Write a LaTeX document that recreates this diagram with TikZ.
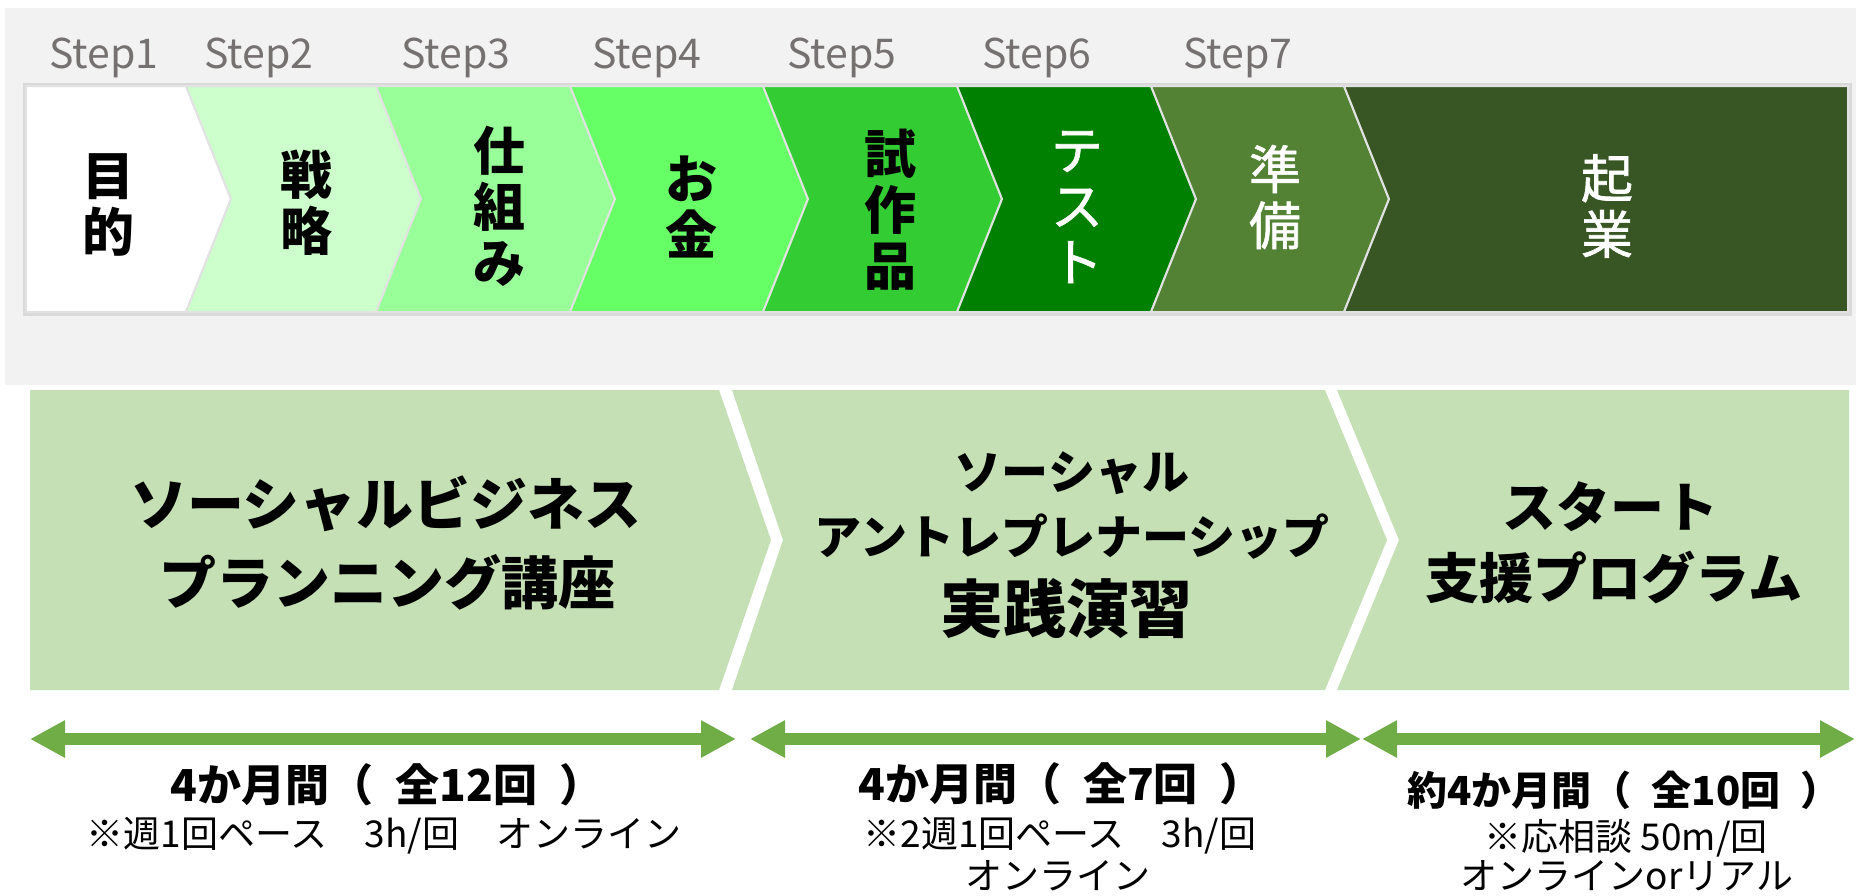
\documentclass[tikz,border=0pt]{standalone}
\usepackage{fontspec}
\newfontfamily\jp{Noto Sans CJK JP}
\newfontfamily\jpmid{Noto Sans CJK JP}[FakeBold=1.2]
\usetikzlibrary{arrows.meta}
\definecolor{bggray}{HTML}{F2F2F2}
\definecolor{rowborder}{HTML}{D9D9D9}
\definecolor{sepline}{HTML}{E2E2E2}
\definecolor{steptext}{HTML}{767171}
\definecolor{cA}{HTML}{FFFFFF}
\definecolor{cB}{HTML}{CCFFCC}
\definecolor{cC}{HTML}{99FF99}
\definecolor{cD}{HTML}{66FF66}
\definecolor{cE}{HTML}{33CC33}
\definecolor{cF}{HTML}{008000}
\definecolor{cG}{HTML}{548235}
\definecolor{cH}{HTML}{375623}
\definecolor{boxgreen}{HTML}{C5E0B4}
\definecolor{arrowgreen}{HTML}{70AD47}
\newcommand{\gapsp}{\hspace{0.5em}}
\tikzset{
  chev/.style={draw=sepline, line width=1pt, line join=miter},
  stepname/.style={font=\jp\bfseries\fontsize{26pt}{28pt}\selectfont, align=center, inner sep=0pt, text=black},
  stepnamew/.style={font=\jpmid\fontsize{26pt}{28pt}\selectfont, align=center, inner sep=0pt, text=white},
  steplabel/.style={font=\jp\fontsize{20.5pt}{24pt}\selectfont, text=steptext, anchor=base, inner sep=0pt},
  bigbox/.style={fill=boxgreen},
  bigA/.style={font=\jp\bfseries\fontsize{28.5pt}{30pt}\selectfont, anchor=base, inner sep=0pt},
  bigB/.style={font=\jp\bfseries\fontsize{23.5pt}{26pt}\selectfont, anchor=base, inner sep=0pt},
  bigC/.style={font=\jp\bfseries\fontsize{31.5pt}{34pt}\selectfont, anchor=base, inner sep=0pt},
  bigD/.style={font=\jp\bfseries\fontsize{27pt}{30pt}\selectfont, anchor=base, inner sep=0pt},
  durtext/.style={font=\jp\bfseries\fontsize{22pt}{24pt}\selectfont, anchor=base, inner sep=0pt},
  durtextb/.style={font=\jp\bfseries\fontsize{20pt}{24pt}\selectfont, anchor=base, inner sep=0pt},
  subtext/.style={font=\jp\fontsize{18.5pt}{20pt}\selectfont, anchor=base, inner sep=0pt},
  greenarrow/.style={draw=arrowgreen, line width=6pt,
    {Triangle[length=17.5pt,width=17.5pt]}-{Triangle[length=17.5pt,width=17.5pt]}}
}
\begin{document}
\begin{tikzpicture}[x=0.5pt,y=-0.5pt]
\useasboundingbox (0,0) rectangle (1856,895);
\fill[white] (0,0) rectangle (1856,895);
% gray panel
\fill[bggray] (5,8) rectangle (1856,385);
% step row border
\draw[rowborder, line width=1.5pt] (24,84) rectangle (1850,314);
% chevrons
\path[chev, fill=cA] (26,86) -- (186,86) -- (231,199) -- (186,312) -- (26,312) -- cycle;
\path[chev, fill=cB] (186,86) -- (376,86) -- (421,199) -- (376,312) -- (186,312) -- (231,199) -- cycle;
\path[chev, fill=cC] (376,86) -- (570,86) -- (615,199) -- (570,312) -- (376,312) -- (421,199) -- cycle;
\path[chev, fill=cD] (570,86) -- (763,86) -- (808,199) -- (763,312) -- (570,312) -- (615,199) -- cycle;
\path[chev, fill=cE] (763,86) -- (957,86) -- (1002,199) -- (957,312) -- (763,312) -- (808,199) -- cycle;
\path[chev, fill=cF] (957,86) -- (1151,86) -- (1196,199) -- (1151,312) -- (957,312) -- (1002,199) -- cycle;
\path[chev, fill=cG] (1151,86) -- (1344,86) -- (1389,199) -- (1344,312) -- (1151,312) -- (1196,199) -- cycle;
\path[chev, fill=cH] (1344,86) -- (1848,86) -- (1848,312) -- (1344,312) -- (1389,199) -- cycle;
% step labels
\node[steplabel] (l1) at (104,68) {Step1};
\node[steplabel] (l2) at (259,68) {Step2};
\node[steplabel] (l3) at (456,68) {Step3};
\node[steplabel] (l4) at (647,68) {Step4};
\node[steplabel] (l5) at (842,68) {Step5};
\node[steplabel] (l6) at (1037,68) {Step6};
\node[steplabel] (l7) at (1238,68) {Step7};
% step names
\node[stepname] (s1) at (108,205) {目\\的};
\node[stepname] (s2) at (306,203) {戦\\略};
\node[stepname] (s3) at (499,206) {仕\\組\\み};
\node[stepname] (s4) at (691,207) {お\\金};
\node[stepname] (s5) at (890,210) {試\\作\\品};
\node[stepnamew] (s6) at (1077,207) {テ\\ス\\ト};
\node[stepnamew] (s7) at (1275,197) {準\\備};
\node[stepnamew] (s8) at (1607,206) {起\\業};
% big chevrons
\path[bigbox] (30,390) -- (719,390) -- (771,540) -- (719,690) -- (30,690) -- cycle;
\path[bigbox] (732,390) -- (1325,390) -- (1387,540) -- (1325,690) -- (732,690) -- (783,540) -- cycle;
\path[bigbox] (1337,390) -- (1849,390) -- (1849,690) -- (1337,690) -- (1399,540) -- cycle;
% big texts
\node[bigA] (b1a) at (386,525) {ソーシャルビジネス};
\node[bigA] (b1b) at (387,604) {プランニング講座};
\node[bigB] (b2a) at (1072,489) {ソーシャル};
\node[bigB] (b2b) at (1072,554) {アントレプレナーシップ};
\node[bigC] (b2c) at (1066,632) {実践演習};
\node[bigD] (b3a) at (1610,527) {スタート};
\node[bigD] (b3b) at (1614,598) {支援プログラム};
% arrows
\coordinate (a1l) at (30,739);
\coordinate (a1r) at (736,739);
\coordinate (a2l) at (750,739);
\coordinate (a2r) at (1361,739);
\coordinate (a3l) at (1362,739);
\coordinate (a3r) at (1855,739);
\draw[greenarrow] (a1l) -- (a1r);
\draw[greenarrow] (a2l) -- (a2r);
\draw[greenarrow] (a3l) -- (a3r);
% durations
\node[durtext] (t1) at (387,801) {4か月間（\gapsp 全12回\gapsp ）};
\node[subtext] (u1) at (384,847) {※週1回ペース　3h/回　オンライン};
\node[durtext] (t2) at (1061,800) {4か月間（\gapsp 全7回\gapsp ）};
\node[subtext] (u2a) at (1060,847) {※2週1回ペース　3h/回};
\node[subtext] (u2b) at (1058,889) {オンライン};
\node[durtextb] (t3) at (1624,805) {約4か月間（\gapsp 全10回\gapsp ）};
\node[subtext] (u3a) at (1626,850) {※応相談 50m/回};
\node[subtext] (u3b) at (1627,889) {オンラインorリアル};
\end{tikzpicture}
\end{document}
